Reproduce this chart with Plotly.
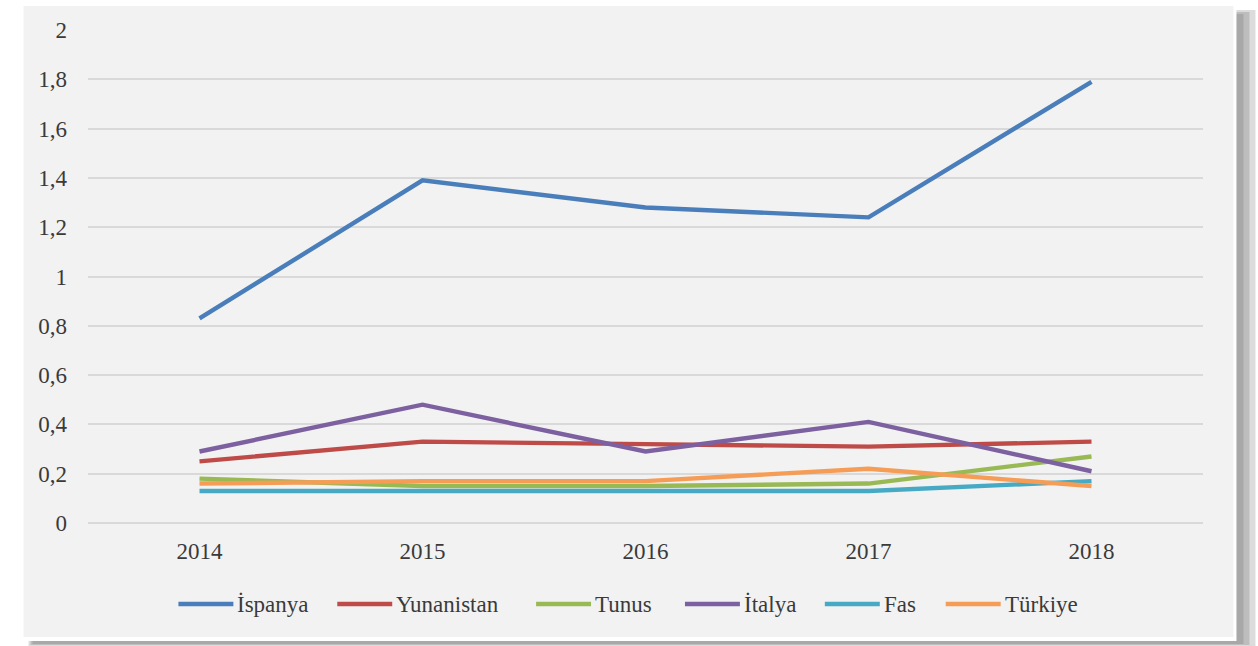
import plotly.graph_objects as go

years = ["2014", "2015", "2016", "2017", "2018"]

ispanya = [0.83, 1.39, 1.28, 1.24, 1.79]
yunanistan = [0.25, 0.33, 0.32, 0.31, 0.33]
tunus = [0.18, 0.15, 0.15, 0.16, 0.27]
italya = [0.29, 0.48, 0.29, 0.41, 0.21]
fas = [0.13, 0.13, 0.13, 0.13, 0.17]
turkiye = [0.16, 0.17, 0.17, 0.22, 0.15]

series_names = ["İspanya", "Yunanistan", "Tunus", "İtalya", "Fas", "Türkiye"]
series_values = [ispanya, yunanistan, tunus, italya, fas, turkiye]
series_colors = ["#4A7EBB", "#BE4B48", "#98B954", "#7D60A0", "#46AAC5", "#F59D56"]

y_ticks = [0, 0.2, 0.4, 0.6, 0.8, 1, 1.2, 1.4, 1.6, 1.8, 2]
y_tick_text = ["0", "0,2", "0,4", "0,6", "0,8", "1", "1,2", "1,4", "1,6", "1,8", "2"]

W, H = 1258, 646
L, R, T, B = 87.5, 54.5, 30, 123
pw, ph = W - L - R, H - T - B


def px(x):
    return (x - L) / pw


def py(y):
    return (H - B - y) / ph


font = dict(family="Liberation Serif, Times New Roman, serif", size=23, color="#3a3a3a")

fig = go.Figure()
for name, vals, col in zip(series_names, series_values, series_colors):
    fig.add_trace(go.Scatter(
        x=years, y=vals, name=name, mode="lines",
        line=dict(color=col, width=4.4), showlegend=False,
    ))

# framed card with drop shadow behind the plot
shapes = [
    dict(type="rect", xref="paper", yref="paper", layer="below",
         x0=px(28), x1=px(1256), y0=py(646), y1=py(10),
         fillcolor="#dcdcdc", line=dict(width=0)),
    dict(type="rect", xref="paper", yref="paper", layer="below",
         x0=px(30), x1=px(1250), y0=py(645), y1=py(12),
         fillcolor="#bdbdbd", line=dict(width=0)),
    dict(type="rect", xref="paper", yref="paper", layer="below",
         x0=px(32), x1=px(1244), y0=py(644), y1=py(14),
         fillcolor="#a8a8a8", line=dict(width=0)),
    dict(type="rect", xref="paper", yref="paper", layer="below",
         x0=px(20), x1=px(1237), y0=py(641), y1=py(3),
         fillcolor="#ffffff", line=dict(width=0)),
    dict(type="rect", xref="paper", yref="paper", layer="below",
         x0=px(23), x1=px(1234), y0=py(637), y1=py(6),
         fillcolor="#f2f2f2", line=dict(width=0)),
]

# legend row below the axis: a line swatch followed by the series name
legend_starts = [178, 337, 536, 685, 825, 946]
legend_y = 604
swatch_len = 55
annotations = []
for name, col, x0 in zip(series_names, series_colors, legend_starts):
    shapes.append(dict(type="line", xref="paper", yref="paper",
                       x0=px(x0), x1=px(x0 + swatch_len),
                       y0=py(legend_y), y1=py(legend_y),
                       line=dict(color=col, width=4.4)))
    annotations.append(dict(text=name, xref="paper", yref="paper",
                            x=px(x0 + swatch_len + 2), y=py(legend_y),
                            xanchor="left", yanchor="middle", showarrow=False,
                            font=font))

fig.update_layout(
    width=W, height=H,
    margin=dict(l=L, r=R, t=T, b=B, pad=0),
    paper_bgcolor="#ffffff",
    plot_bgcolor="rgba(0,0,0,0)",
    font=font,
    shapes=shapes,
    annotations=annotations,
    showlegend=False,
    xaxis=dict(
        type="category", range=[-0.5, 4.5], showgrid=False, zeroline=False,
        showline=False, ticks="", ticklabelstandoff=12, tickfont=font,
    ),
    yaxis=dict(
        range=[0, 2], tickvals=y_ticks, ticktext=y_tick_text,
        showgrid=True, gridcolor="#d9d9d9", gridwidth=1.5,
        zeroline=True, zerolinecolor="#d9d9d9", zerolinewidth=1.5,
        showline=False, ticks="", ticklabelstandoff=20, tickfont=font,
    ),
)

fig.write_html("out.html")
